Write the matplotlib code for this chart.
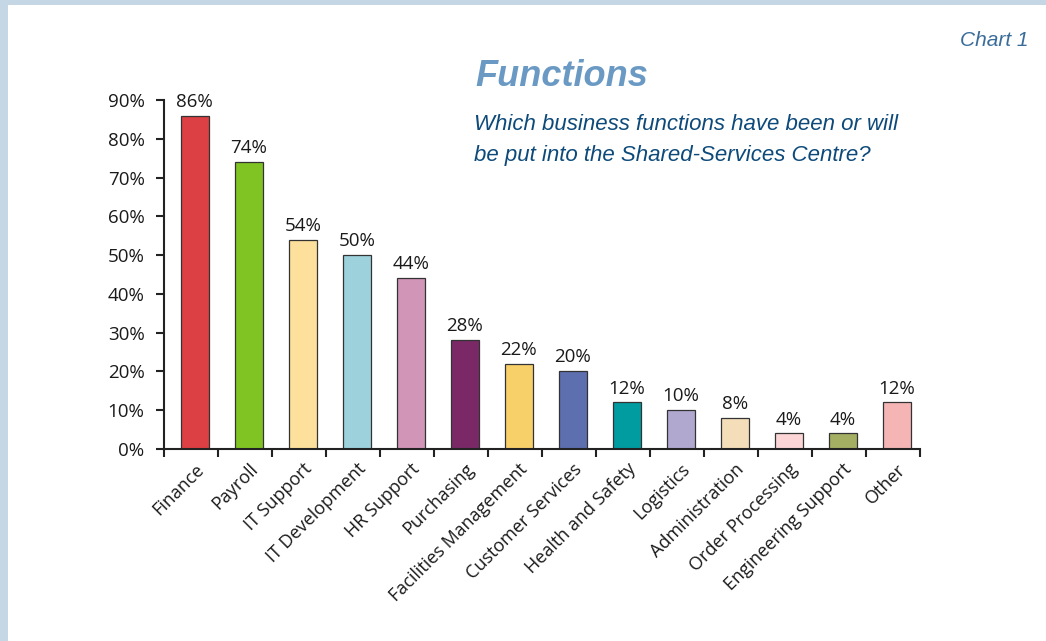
import matplotlib.pyplot as plt
from matplotlib.patches import Rectangle
import numpy as np

functions = ['Finance', 'Payroll', 'IT Support', 'IT Development', 'HR Support',
             'Purchasing', 'Facilities Management', 'Customer Services',
             'Health and Safety', 'Logistics', 'Administration',
             'Order Processing', 'Engineering Support', 'Other']
shares = [86, 74, 54, 50, 44, 28, 22, 20, 12, 10, 8, 4, 4, 12]
bar_colors = ['#DD4044', '#80C423', '#FCE09B', '#9DD1DC', '#D195B8', '#7A2966',
              '#F8D06A', '#5E6FB0', '#009CA0', '#B1A8D0', '#F3DEB9', '#FCD6D6',
              '#A5AF63', '#F5B5B5']
y_ticks = np.arange(0, 100, 10)

plt.rcParams['font.family'] = ['Open Sans', 'DejaVu Sans']

fig = plt.figure(figsize=(10.46, 6.41), dpi=100)
fig.patch.set_facecolor('white')

# light blue frame on the left and top edges
fig.patches.append(Rectangle((0, 0), 8 / 1046, 1, transform=fig.transFigure,
                             facecolor='#C5D7E4', edgecolor='none', zorder=0))
fig.patches.append(Rectangle((0, 1 - 5 / 641), 1, 5 / 641, transform=fig.transFigure,
                             facecolor='#C5D7E4', edgecolor='none', zorder=0))

ax = fig.add_axes([164 / 1046, 1 - 449 / 641, (920 - 164) / 1046, 349 / 641])

x = np.arange(len(functions))
ax.bar(x + 0.07, shares, width=0.52, color=bar_colors, edgecolor='#333333',
       linewidth=0.9, zorder=2)

for xi, v in zip(x, shares):
    ax.text(xi + 0.07, v + 3.6, f'{v}%', ha='center', va='center',
            fontsize=13.5, color='#1a1a1a')

ax.set_xlim(-0.5, len(functions) - 0.5)
ax.set_ylim(0, 90)

ax.set_yticks(y_ticks)
ax.set_yticklabels([f'{t}%' for t in y_ticks], fontsize=13.5, color='#1a1a1a')

ax.set_xticks(x + 0.07)
ax.set_xticklabels(functions, rotation=45, ha='right', rotation_mode='anchor',
                   fontsize=13, color='#1a1a1a')
ax.set_xticks(np.arange(-0.5, len(functions)), minor=True)
ax.tick_params(axis='x', which='major', length=0, pad=8)
ax.tick_params(axis='x', which='minor', length=6, width=1.5, color='#222222')
ax.tick_params(axis='y', length=6, width=1.5, color='#222222', pad=8)

# only the left and bottom axis lines
for side in ['top', 'right']:
    ax.spines[side].set_visible(False)
for side in ['left', 'bottom']:
    ax.spines[side].set_linewidth(1.5)
    ax.spines[side].set_color('#222222')

fig.text(475 / 1046, 1 - 77 / 641, 'Functions', fontsize=26, fontweight='bold',
         style='italic', color='#6A9AC4', family='Liberation Sans', va='center')
fig.text(474 / 1046, 1 - 124 / 641, 'Which business functions have been or will',
         fontsize=16, style='italic', color='#0D4A7A', family='Liberation Sans',
         va='center')
fig.text(474 / 1046, 1 - 155 / 641, 'be put into the Shared-Services Centre?',
         fontsize=16, style='italic', color='#0D4A7A', family='Liberation Sans',
         va='center')
fig.text(1029 / 1046, 1 - 40 / 641, 'Chart 1', fontsize=15, style='italic',
         color='#3A6C9A', family='Liberation Sans', ha='right', va='center')

fig.savefig('out.png', dpi=100, facecolor=fig.get_facecolor())
